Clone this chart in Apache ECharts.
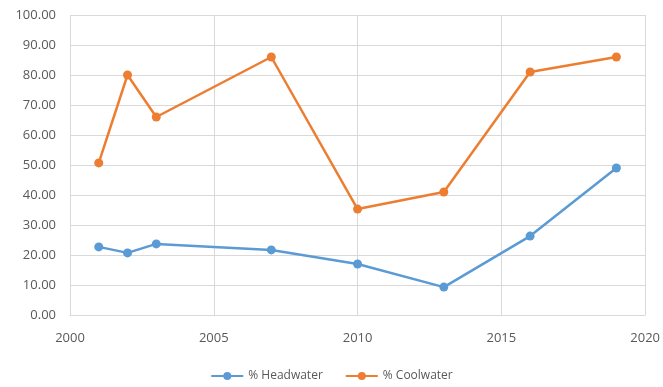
<!DOCTYPE html>
<html><head><meta charset="utf-8">
<script src="https://cdn.jsdelivr.net/npm/echarts@6/dist/echarts.min.js"></script>
<style>html,body{margin:0;padding:0;background:#fff}#c{width:663px;height:387px}</style>
</head><body><div id="c"></div>
<script>
const years = [2001, 2002, 2003, 2007, 2010, 2013, 2016, 2019];
const headwater = [22.7, 20.7, 23.7, 21.7, 17.0, 9.3, 26.3, 49.0];
const coolwater = [50.7, 80.0, 66.0, 86.0, 35.3, 41.0, 81.0, 86.0];
const seriesNames = ['% Headwater', '% Coolwater'];

const chart = echarts.init(document.getElementById('c'));
const txt = {color: '#595959', fontFamily: 'Open Sans', fontSize: 13};
chart.setOption({
  animation: false,
  grid: {left: 70, right: 16, top: 15, bottom: 72},
  legend: {
    bottom: 0, left: 'center', itemWidth: 32, itemHeight: 10, itemGap: 22,
    textStyle: {color: '#595959', fontFamily: 'Open Sans', fontSize: 12},
    data: seriesNames
  },
  xAxis: {
    type: 'value', min: 2000, max: 2020, interval: 5,
    axisLine: {lineStyle: {color: '#d9d9d9'}},
    axisTick: {show: false},
    axisLabel: Object.assign({margin: 17, formatter: v => String(v)}, txt),
    splitLine: {show: true, lineStyle: {color: '#d9d9d9'}}
  },
  yAxis: {
    type: 'value', min: 0, max: 100, interval: 10,
    axisLine: {show: false}, axisTick: {show: false},
    axisLabel: Object.assign({margin: 14, formatter: v => v.toFixed(2)}, txt),
    splitLine: {lineStyle: {color: '#d9d9d9'}}
  },
  series: [
    {name: seriesNames[0], type: 'line', data: years.map((y, i) => [y, headwater[i]]),
     color: '#5B9BD5', symbol: 'circle', symbolSize: 9, lineStyle: {width: 2.5}},
    {name: seriesNames[1], type: 'line', data: years.map((y, i) => [y, coolwater[i]]),
     color: '#ED7D31', symbol: 'circle', symbolSize: 9, lineStyle: {width: 2.5}}
  ]
});
</script></body></html>
